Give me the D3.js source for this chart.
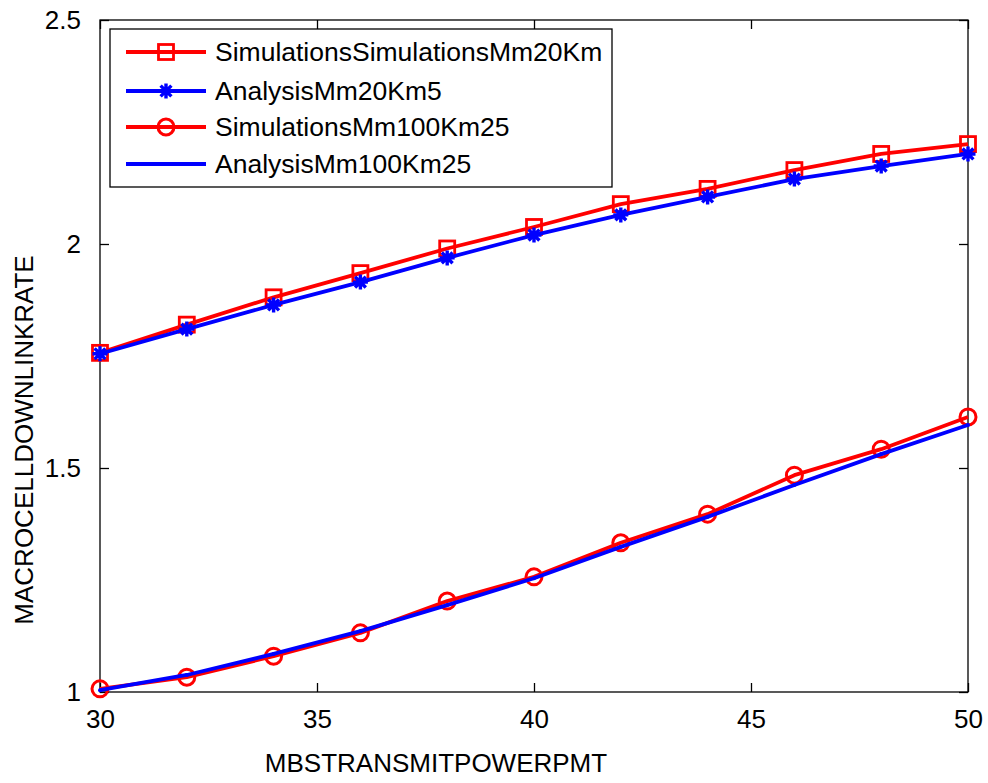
<!DOCTYPE html>
<html>
<head>
<meta charset="utf-8">
<script src="https://cdn.jsdelivr.net/npm/d3@7"></script>
<style>
  body { margin: 0; background: #fff; }
  text { font-family: "Liberation Sans", Arial, sans-serif; fill: #000; }
</style>
</head>
<body>
<script>
// chart data
const powers = [30, 32, 34, 36, 38, 40, 42, 44, 46, 48, 50];
const simMm20 = [1.757, 1.820, 1.881, 1.935, 1.990, 2.038, 2.089, 2.123, 2.165, 2.201, 2.223];
const anaMm20 = [1.755, 1.810, 1.864, 1.915, 1.969, 2.020, 2.065, 2.105, 2.145, 2.174, 2.201];
const simMm100 = [1.007, 1.033, 1.080, 1.132, 1.203, 1.257, 1.333, 1.397, 1.484, 1.542, 1.614];
const anaMm100 = [1.004, 1.038, 1.085, 1.136, 1.194, 1.254, 1.324, 1.391, 1.462, 1.531, 1.596];
const legendNames = ["SimulationsSimulationsMm20Km", "AnalysisMm20Km5", "SimulationsMm100Km25", "AnalysisMm100Km25"];
const xTicks = [30, 35, 40, 45, 50];
const yTicks = [1, 1.5, 2, 2.5];

const width = 988, height = 783;
const plotL = 100, plotR = 968, plotT = 20, plotB = 692;

const svg = d3.select("body").append("svg")
  .attr("width", width)
  .attr("height", height);

const x = d3.scaleLinear().domain([30, 50]).range([plotL, plotR]);
const y = d3.scaleLinear().domain([1, 2.5]).range([plotB, plotT]);

// axes box with inward ticks on all sides
const tickLen = 9;
svg.append("rect")
  .attr("x", plotL).attr("y", plotT)
  .attr("width", plotR - plotL).attr("height", plotB - plotT)
  .attr("fill", "none").attr("stroke", "#000").attr("stroke-width", 1.3);

svg.append("g").attr("transform", `translate(0,${plotB})`)
  .call(d3.axisBottom(x).tickValues(xTicks).tickSizeInner(-tickLen).tickSizeOuter(0).tickPadding(18).tickFormat(d3.format("d")))
  .call(g => g.select(".domain").remove());
svg.append("g").attr("transform", `translate(0,${plotT})`)
  .call(d3.axisTop(x).tickValues(xTicks).tickSizeInner(-tickLen).tickSizeOuter(0).tickFormat(""))
  .call(g => g.select(".domain").remove());
svg.append("g").attr("transform", `translate(${plotL},0)`)
  .call(d3.axisLeft(y).tickValues(yTicks).tickSizeInner(-tickLen).tickSizeOuter(0).tickPadding(19).tickFormat(d => d))
  .call(g => g.select(".domain").remove());
svg.append("g").attr("transform", `translate(${plotR},0)`)
  .call(d3.axisRight(y).tickValues(yTicks).tickSizeInner(-tickLen).tickSizeOuter(0).tickFormat(""))
  .call(g => g.select(".domain").remove());

svg.selectAll(".tick line").attr("stroke", "#000").attr("stroke-width", 1.3);
svg.selectAll(".tick text")
  .attr("font-size", 26)
  .style("font-family", "'Liberation Sans', Arial, sans-serif");

// axis titles
svg.append("text")
  .attr("x", 436).attr("y", 772)
  .attr("text-anchor", "middle")
  .attr("font-size", 26)
  .text("MBSTRANSMITPOWERPMT");
svg.append("text")
  .attr("transform", "translate(33,440) rotate(-90)")
  .attr("text-anchor", "middle")
  .attr("font-size", 26)
  .text("MACROCELLDOWNLINKRATE");

// marker drawers
function drawMarker(g, type, color) {
  if (type === "square") {
    g.append("rect").attr("x", -7.5).attr("y", -7.5).attr("width", 15).attr("height", 15)
      .attr("fill", "none").attr("stroke", color).attr("stroke-width", 2.8);
  } else if (type === "circle") {
    g.append("circle").attr("r", 8)
      .attr("fill", "none").attr("stroke", color).attr("stroke-width", 3);
  } else if (type === "star") {
    const r = 7.5, d = r * 0.72;
    g.append("path")
      .attr("d", `M${-r},0L${r},0M0,${-r}L0,${r}M${-d},${-d}L${d},${d}M${-d},${d}L${d},${-d}`)
      .attr("stroke", color).attr("stroke-width", 3.4).attr("fill", "none");
  } else if (type === "dot") {
    g.append("circle").attr("r", 2).attr("fill", color);
  }
}

const series = [
  { values: simMm20, color: "#ff0000", marker: "square" },
  { values: anaMm20, color: "#0000ff", marker: "star" },
  { values: simMm100, color: "#ff0000", marker: "circle" },
  { values: anaMm100, color: "#0000ff", marker: "dot" }
];

const line = d3.line().x((d, i) => x(powers[i])).y(d => y(d));

series.forEach(s => {
  svg.append("path")
    .datum(s.values)
    .attr("d", line)
    .attr("fill", "none")
    .attr("stroke", s.color)
    .attr("stroke-width", 3.8)
    .attr("stroke-linejoin", "round");
  svg.append("g").selectAll("g")
    .data(s.values)
    .join("g")
    .attr("transform", (d, i) => `translate(${x(powers[i])},${y(d)})`)
    .each(function() { drawMarker(d3.select(this), s.marker, s.color); });
});

// legend
const lg = svg.append("g");
lg.append("rect")
  .attr("x", 110).attr("y", 29).attr("width", 502).attr("height", 158)
  .attr("fill", "#fff").attr("stroke", "#000").attr("stroke-width", 1.3);
const rowY = [52, 91, 127, 164];
series.forEach((s, i) => {
  const row = lg.append("g").attr("transform", `translate(0,${rowY[i]})`);
  row.append("line").attr("x1", 126).attr("x2", 206)
    .attr("stroke", s.color).attr("stroke-width", 3.8);
  drawMarker(row.append("g").attr("transform", "translate(166,0)"), s.marker, s.color);
  row.append("text").attr("x", 215).attr("y", 9)
    .attr("font-size", 26.5)
    .text(legendNames[i]);
});
</script>
</body>
</html>
